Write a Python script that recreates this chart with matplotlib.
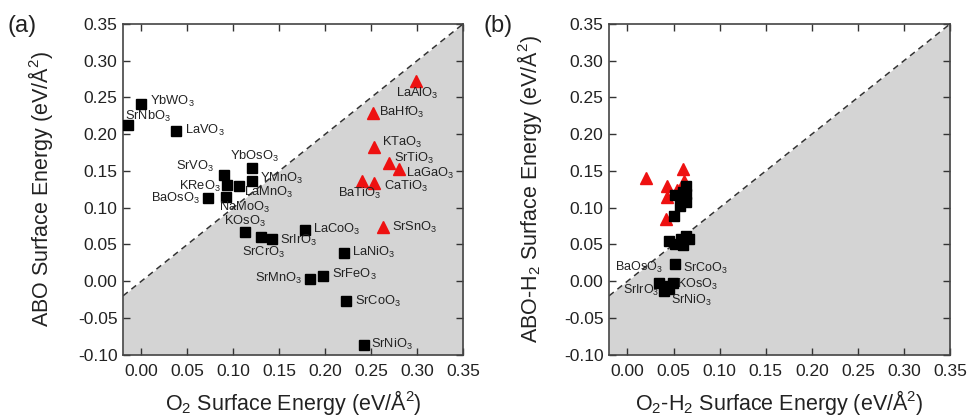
import matplotlib
matplotlib.use('Agg')
import matplotlib.pyplot as plt

plt.rcParams['font.family'] = ['Liberation Sans', 'DejaVu Sans']
plt.rcParams['mathtext.fontset'] = 'custom'
plt.rcParams['mathtext.rm'] = 'Liberation Sans'
plt.rcParams['mathtext.it'] = 'Liberation Sans:italic'
plt.rcParams['mathtext.bf'] = 'Liberation Sans:bold'

# (a) O2 surface energy vs ABO surface energy
black_names = ['YbWO3', 'SrNbO3', 'LaVO3', 'SrVO3', 'KReO3', 'LaMnO3', 'YbOsO3',
               'YMnO3', 'BaOsO3', 'NaMoO3', 'KOsO3', 'SrCrO3', 'SrIrO3', 'LaCoO3',
               'LaNiO3', 'SrMnO3', 'SrFeO3', 'SrCoO3', 'SrNiO3']
black_x = [0.000, -0.015, 0.038, 0.090, 0.093, 0.106, 0.120, 0.120, 0.073, 0.092,
           0.113, 0.130, 0.142, 0.178, 0.220, 0.184, 0.198, 0.223, 0.242]
black_y = [0.241, 0.213, 0.205, 0.144, 0.131, 0.130, 0.154, 0.137, 0.113, 0.114,
           0.067, 0.060, 0.058, 0.069, 0.039, 0.003, 0.007, -0.027, -0.087]

red_names = ['LaAlO3', 'BaHfO3', 'KTaO3', 'SrTiO3', 'LaGaO3', 'BaTiO3', 'CaTiO3', 'SrSnO3']
red_x = [0.299, 0.252, 0.253, 0.269, 0.280, 0.240, 0.253, 0.263]
red_y = [0.273, 0.229, 0.182, 0.161, 0.153, 0.136, 0.134, 0.074]

# (b) O2-H2 surface energy vs ABO-H2 surface energy
black_x_h = [0.060, 0.063, 0.064, 0.064, 0.057, 0.051, 0.052, 0.045, 0.058, 0.063,
             0.067, 0.060, 0.052, 0.052, 0.034, 0.049, 0.042, 0.045, 0.040]
black_y_h = [0.121, 0.119, 0.130, 0.108, 0.103, 0.089, 0.117, 0.055, 0.058, 0.062,
             0.058, 0.049, 0.051, 0.024, -0.002, -0.002, -0.006, -0.011, -0.013]
red_x_h = [0.060, 0.020, 0.061, 0.043, 0.054, 0.043, 0.058, 0.042]
red_y_h = [0.153, 0.140, 0.137, 0.129, 0.124, 0.115, 0.115, 0.084]

# where the labels sit (left edge, vertical centre)
label_pos_a = {
    'YbWO3': (0.009, 0.244), 'SrNbO3': (-0.018, 0.224), 'LaVO3': (0.048, 0.205),
    'YbOsO3': (0.096, 0.170), 'SrVO3': (0.038, 0.156), 'KReO3': (0.041, 0.129),
    'YMnO3': (0.129, 0.140), 'LaMnO3': (0.112, 0.121), 'BaOsO3': (0.011, 0.112),
    'NaMoO3': (0.085, 0.100), 'KOsO3': (0.090, 0.081), 'SrCrO3': (0.109, 0.039),
    'SrIrO3': (0.151, 0.055), 'LaCoO3': (0.187, 0.070), 'LaNiO3': (0.229, 0.039),
    'SrSnO3': (0.273, 0.073), 'SrMnO3': (0.124, 0.004), 'SrFeO3': (0.207, 0.009),
    'SrCoO3': (0.232, -0.027), 'SrNiO3': (0.250, -0.086), 'LaAlO3': (0.277, 0.255),
    'BaHfO3': (0.259, 0.230), 'KTaO3': (0.262, 0.189), 'SrTiO3': (0.275, 0.167),
    'LaGaO3': (0.288, 0.147), 'BaTiO3': (0.214, 0.119), 'CaTiO3': (0.264, 0.129),
}
label_pos_b = {
    'BaOsO3': (-0.013, 0.019), 'SrIrO3': (-0.005, -0.013), 'SrCoO3': (0.060, 0.018),
    'KOsO3': (0.054, -0.004), 'SrNiO3': (0.047, -0.026),
}

ticks = [-0.10, -0.05, 0.00, 0.05, 0.10, 0.15, 0.20, 0.25, 0.30, 0.35]
xticks = [0.00, 0.05, 0.10, 0.15, 0.20, 0.25, 0.30, 0.35]
lo_x, lo_y, hi = -0.02, -0.10, 0.35


def fmt(name):
    return name[:-1] + '$_{' + name[-1] + '}$'


def setup(ax):
    ax.set_xlim(lo_x, hi)
    ax.set_ylim(lo_y, hi)
    ax.fill_between([lo_x, hi], [lo_y, lo_y], [lo_x, hi], color='#d4d4d4', lw=0, zorder=0)
    ax.plot([lo_x, hi], [lo_x, hi], ls=(0, (4, 3)), color='#333333', lw=1.1, zorder=1)
    ax.set_xticks(xticks)
    ax.set_yticks(ticks)
    ax.set_xticklabels(['%.2f' % t for t in xticks])
    ax.set_yticklabels(['%.2f' % t for t in ticks])
    ax.tick_params(direction='in', top=True, right=True, length=5, width=1,
                   labelsize=12.5, colors='#333333', labelcolor='#222222')
    ax.tick_params(axis='x', pad=7)
    ax.tick_params(axis='y', pad=4)
    for s in ax.spines.values():
        s.set_linewidth(1.2)
        s.set_color('#444444')


fig = plt.figure(figsize=(9.67, 4.16), dpi=100)
ax1 = fig.add_axes([0.1272, 0.1474, 0.3516, 0.7949])
ax2 = fig.add_axes([0.6298, 0.1474, 0.3526, 0.7949])

for ax in (ax1, ax2):
    setup(ax)

ax1.plot(black_x, black_y, 's', color='black', ms=6.5, zorder=3)
ax1.plot(red_x, red_y, '^', color='#ee1111', ms=8.5, zorder=3)
for name, (tx, ty) in label_pos_a.items():
    ax1.text(tx, ty, fmt(name), fontsize=9.3, ha='left', va='center', color='#222222', zorder=4)

ax2.plot(black_x_h, black_y_h, 's', color='black', ms=6.5, zorder=3)
ax2.plot(red_x_h, red_y_h, '^', color='#ee1111', ms=8.5, zorder=2)
for name, (tx, ty) in label_pos_b.items():
    ax2.text(tx, ty, fmt(name), fontsize=9, ha='left', va='center', color='#222222', zorder=4)

ax1.set_xlabel('O$_2$ Surface Energy (eV/Å$^2$)', fontsize=15.5, color='#222222')
ax1.set_ylabel('ABO Surface Energy (eV/Å$^2$)', fontsize=15.5, color='#222222')
ax2.set_xlabel('O$_2$-H$_2$ Surface Energy (eV/Å$^2$)', fontsize=15.5, color='#222222')
ax2.set_ylabel('ABO-H$_2$ Surface Energy (eV/Å$^2$)', fontsize=15.5, color='#222222')
ax1.xaxis.set_label_coords(0.5, -0.10)
ax2.xaxis.set_label_coords(0.5, -0.10)
ax1.yaxis.set_label_coords(-0.20, 0.5)
ax2.yaxis.set_label_coords(-0.19, 0.5)

fig.text(0.008, 0.965, '(a)', fontsize=17, va='top', ha='left', color='#222222')
fig.text(0.500, 0.965, '(b)', fontsize=17, va='top', ha='left', color='#222222')

fig.savefig('out.png', dpi=100)
